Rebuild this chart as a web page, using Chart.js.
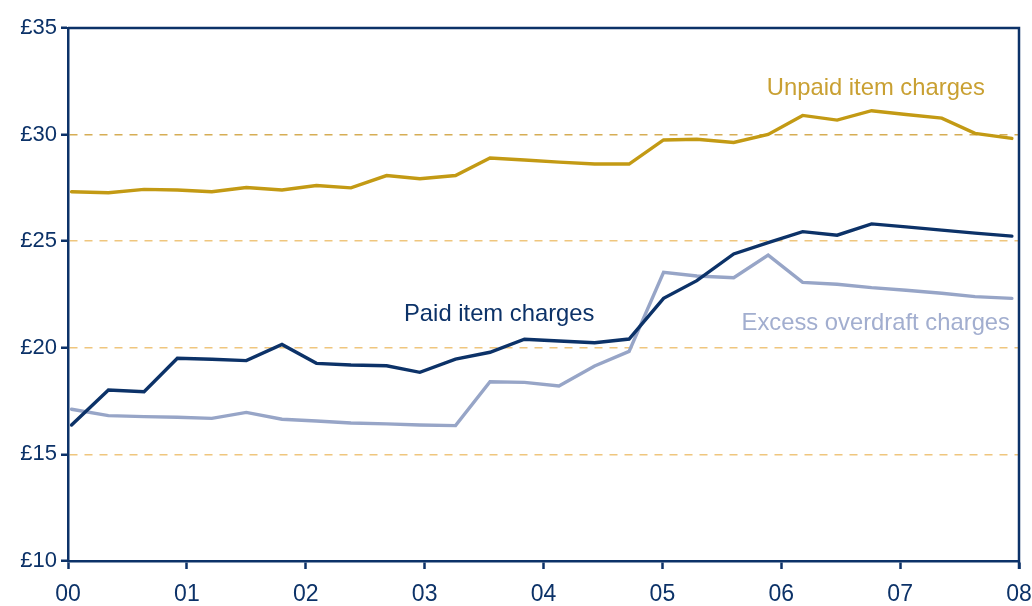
<!DOCTYPE html>
<html>
<head>
<meta charset="utf-8">
<script src="https://cdn.jsdelivr.net/npm/chart.js@4.4.1/dist/chart.umd.min.js"></script>
<style>
    html, body { margin: 0; padding: 0; background: #ffffff; }
    #wrap { width: 1032px; height: 606px; }
</style>
</head>
<body>
<div id="wrap"><canvas id="charges" width="1032" height="606"></canvas></div>
<script>
// survey dates, in years after 2000
const dates = [
    0.03, 0.34, 0.64, 0.92, 1.21, 1.50, 1.80, 2.09, 2.38, 2.68,
    2.96, 3.26, 3.55, 3.84, 4.13, 4.43, 4.72, 5.01, 5.29, 5.60,
    5.89, 6.18, 6.47, 6.76, 7.05, 7.35, 7.63, 7.94,
];

const unpaidItem = [
    27.32, 27.27, 27.43, 27.40, 27.32, 27.52, 27.40, 27.61, 27.50, 28.08,
    27.93, 28.08, 28.90, 28.81, 28.71, 28.62, 28.62, 29.75, 29.78, 29.63,
    30.01, 30.90, 30.68, 31.12, 30.94, 30.77, 30.06, 29.82,
];

const paidItem = [
    16.38, 18.02, 17.94, 19.51, 19.46, 19.40, 20.16, 19.27, 19.19, 19.16,
    18.85, 19.47, 19.79, 20.40, 20.32, 20.24, 20.41, 22.32, 23.15, 24.40,
    24.93, 25.45, 25.28, 25.81, 25.67, 25.52, 25.38, 25.24,
];

const excessOverdraft = [
    17.12, 16.82, 16.77, 16.74, 16.69, 16.97, 16.65, 16.57, 16.47, 16.43,
    16.38, 16.35, 18.41, 18.38, 18.21, 19.15, 19.83, 23.54, 23.37, 23.29,
    24.35, 23.07, 22.98, 22.82, 22.70, 22.56, 22.40, 22.32,
];

const yearLabels = ["00", "01", "02", "03", "04", "05", "06", "07", "08"];

const NAVY = "#0c3268";
const GOLD = "#c39a14";
const LIGHT = "#97a5c7";
const FONT = "'Liberation Sans', Arial, sans-serif";

function toPoints(values) {
    return values.map((v, i) => ({ x: dates[i], y: v }));
}

// top and right edges of the box plus the series names
const frameAndNames = {
    id: "frameAndNames",
    afterDraw(chart) {
        const { ctx, chartArea } = chart;
        ctx.save();
        ctx.strokeStyle = NAVY;
        ctx.lineWidth = 2.5;
        ctx.beginPath();
        ctx.moveTo(chartArea.left, chartArea.top);
        ctx.lineTo(chartArea.right, chartArea.top);
        ctx.lineTo(chartArea.right, chartArea.bottom + 8);
        ctx.stroke();

        ctx.font = "23.8px " + FONT;
        ctx.textBaseline = "middle";
        ctx.fillStyle = "#c9a032";
        ctx.textAlign = "right";
        ctx.fillText("Unpaid item charges", 985, 88);
        ctx.fillStyle = "#a2aecf";
        ctx.fillText("Excess overdraft charges", 1010, 323);
        ctx.fillStyle = NAVY;
        ctx.textAlign = "left";
        ctx.fillText("Paid item charges", 404, 314);
        ctx.restore();
    },
};

new Chart(document.getElementById("charges"), {
    type: "line",
    data: {
        datasets: [
            {
                label: "Unpaid item charges",
                data: toPoints(unpaidItem),
                borderColor: GOLD,
            },
            {
                label: "Paid item charges",
                data: toPoints(paidItem),
                borderColor: NAVY,
            },
            {
                label: "Excess overdraft charges",
                data: toPoints(excessOverdraft),
                borderColor: LIGHT,
            },
        ],
    },
    options: {
        responsive: false,
        animation: false,
        devicePixelRatio: 1,
        layout: { padding: { top: 28, right: 13, left: 0, bottom: 0 } },
        elements: {
            point: { radius: 0 },
            line: { borderWidth: 3.4, tension: 0, borderCapStyle: "round", borderJoinStyle: "miter" },
        },
        plugins: {
            legend: { display: false },
            tooltip: { enabled: false },
        },
        scales: {
            x: {
                type: "linear",
                min: 0,
                max: 8,
                afterFit: (s) => {
                    s.height = 45;
                    s.paddingLeft = 0;
                    s.paddingRight = 0;
                },
                afterBuildTicks: (s) => {
                    s.ticks = yearLabels.map((_, i) => ({ value: i }));
                },
                ticks: {
                    callback: (v) => yearLabels[v],
                    color: NAVY,
                    font: { family: FONT, size: 23 },
                    padding: 12,
                    maxRotation: 0,
                },
                grid: {
                    drawOnChartArea: false,
                    tickLength: 8,
                    tickWidth: 2.5,
                    tickColor: NAVY,
                },
                border: { color: NAVY, width: 2.5 },
            },
            y: {
                min: 10,
                max: 35,
                afterFit: (s) => {
                    s.width = 68;
                    s.paddingTop = 0;
                    s.paddingBottom = 0;
                },
                ticks: {
                    stepSize: 5,
                    callback: (v) => "£" + v,
                    color: NAVY,
                    font: { family: FONT, size: 22 },
                    padding: 4,
                },
                grid: {
                    color: (c) => {
                        const v = c.tick ? c.tick.value : 0;
                        if (v === 10 || v === 35) return "rgba(0,0,0,0)";
                        return v === 30 ? "#d6ad55" : "#efc67e";
                    },
                    lineWidth: 1.5,
                    tickLength: 7,
                    tickWidth: 2.5,
                    tickColor: NAVY,
                    tickBorderDash: [],
                },
                border: { color: NAVY, width: 2.5, dash: [8, 7] },
            },
        },
    },
    plugins: [frameAndNames],
});
</script>
</body>
</html>
